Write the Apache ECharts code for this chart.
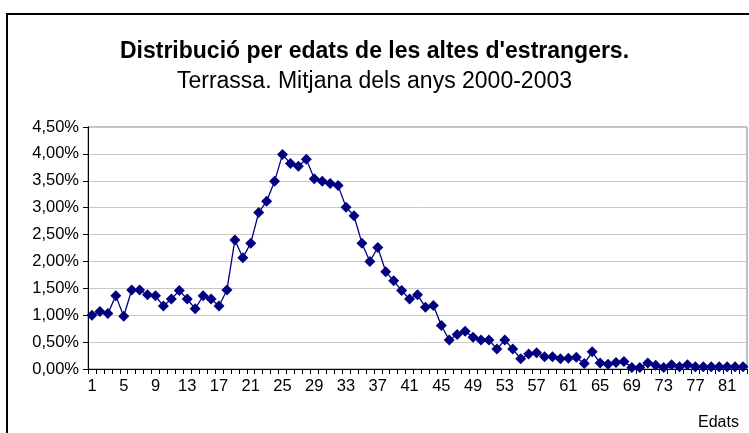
<!DOCTYPE html>
<html>
<head>
<meta charset="utf-8">
<script src="https://cdn.jsdelivr.net/npm/echarts@6/dist/echarts.min.js"></script>
<style>
  html, body { margin: 0; padding: 0; background: #fff; }
  #chart { width: 749px; height: 433px; }
</style>
</head>
<body>
<div id="chart"></div>
<script>
// edats 1..83
const ages = []
for (let i = 1; i <= 83; i++) ages.push(String(i))

// % de les altes per edat (llegit del gràfic)
const share = [
  1.00, 1.07, 1.03, 1.36, 0.98, 1.47, 1.47, 1.38, 1.36, 1.17,
  1.30, 1.46, 1.30, 1.12, 1.36, 1.30, 1.17, 1.47, 2.40, 2.07,
  2.34, 2.91, 3.12, 3.49, 3.99, 3.82, 3.77, 3.90, 3.54, 3.49,
  3.45, 3.41, 3.01, 2.85, 2.34, 2.00, 2.26, 1.81, 1.64, 1.46,
  1.30, 1.38, 1.15, 1.18, 0.81, 0.54, 0.64, 0.70, 0.59, 0.54,
  0.54, 0.37, 0.54, 0.37, 0.19, 0.28, 0.30, 0.23, 0.23, 0.19,
  0.20, 0.22, 0.10, 0.32, 0.11, 0.09, 0.12, 0.14, 0.03, 0.03,
  0.11, 0.07, 0.03, 0.08, 0.04, 0.08, 0.04, 0.04, 0.04, 0.04,
  0.04, 0.04, 0.04
]

const titleText = 'Distribució per edats de les altes d\'estrangers.'
const subText = 'Terrassa. Mitjana dels anys 2000-2003'
const xName = 'Edats'

const chart = echarts.init(document.getElementById('chart'))
const font = '"Liberation Sans", Arial, sans-serif'

const option = {
  animation: false,
  textStyle: { fontFamily: font },
  title: [
    {
      text: titleText,
      left: 'center',
      top: 35,
      textStyle: { fontFamily: font, fontSize: 23, fontWeight: 'bold', color: '#000' }
    },
    {
      text: subText,
      left: 'center',
      top: 65,
      textStyle: { fontFamily: font, fontSize: 23, fontWeight: 'normal', color: '#000' }
    },
    {
      text: xName,
      left: 693,
      top: 410,
      textStyle: { fontFamily: font, fontSize: 16, fontWeight: 'normal', color: '#000' }
    }
  ],
  graphic: [
    {
      type: 'rect',
      shape: { x: 7, y: 14, width: 800, height: 500 },
      style: { fill: 'none', stroke: '#000', lineWidth: 2 },
      silent: true
    }
  ],
  grid: {
    left: 88,
    right: 2,
    top: 127,
    bottom: 64,
    show: true,
    borderColor: '#808080',
    borderWidth: 1
  },
  xAxis: {
    type: 'category',
    data: ages,
    boundaryGap: true,
    axisLine: { lineStyle: { color: '#000', width: 1 } },
    axisTick: { show: true, interval: 0, length: 5, lineStyle: { color: '#000' } },
    axisLabel: { interval: 3, color: '#000', fontSize: 16.5, fontFamily: font, margin: 9 },
    splitLine: { show: false }
  },
  yAxis: {
    type: 'value',
    min: 0,
    max: 4.5,
    interval: 0.5,
    axisLine: { show: true, lineStyle: { color: '#000', width: 1 } },
    axisTick: { show: true, length: 5, lineStyle: { color: '#000' } },
    axisLabel: {
      color: '#000',
      fontSize: 16.5,
      fontFamily: font,
      margin: 9,
      formatter: v => v.toFixed(2).replace('.', ',') + '%'
    },
    splitLine: { show: true, lineStyle: { color: '#c8c8c8', width: 1 } }
  },
  series: [
    {
      type: 'line',
      data: share,
      symbol: 'diamond',
      symbolSize: 11,
      showAllSymbol: true,
      lineStyle: { color: '#000080', width: 1.3 },
      itemStyle: { color: '#000080' }
    }
  ]
}
chart.setOption(option)
</script>
</body>
</html>
